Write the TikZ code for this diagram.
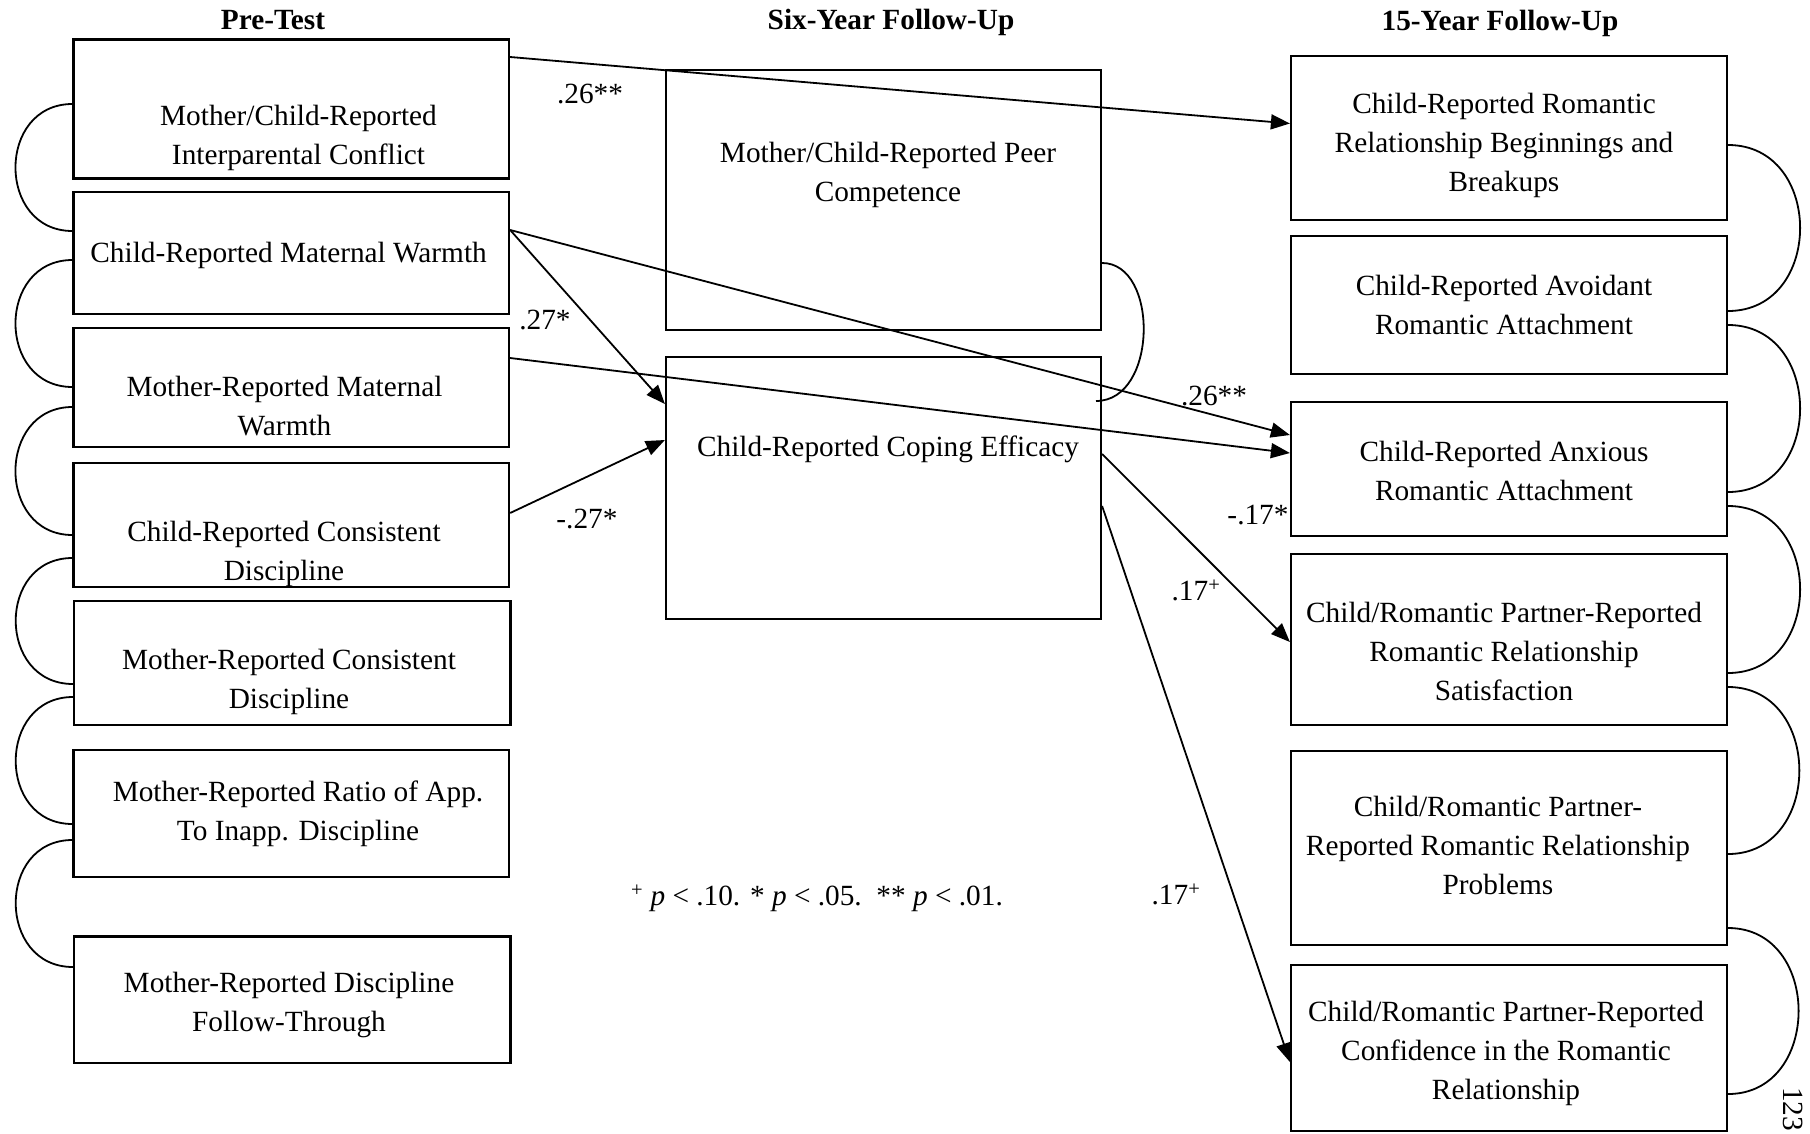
\documentclass[tikz,border=0pt]{standalone}
\usepackage{fontspec}
\setmainfont{Liberation Serif}
\usetikzlibrary{arrows.meta}
\newcommand\bodyfont{\fontsize{29.3}{39}\selectfont}
\begin{document}
\begin{tikzpicture}[x=1pt,y=-1pt,
  box/.style={draw,line width=2.2pt,inner sep=0pt},
  txt/.style={align=center,font=\bodyfont,inner sep=0pt},
  hdr/.style={font=\bodyfont\bfseries,inner sep=0pt},
  lbl/.style={font=\bodyfont,inner sep=0pt},
  effect/.style={line width=1.8pt,-{Triangle[length=19pt,width=15pt]}},
  corr/.style={line width=1.8pt}]
\fill[white] (0,0) rectangle (1810,1133);
\useasboundingbox (0,0) rectangle (1810,1133);

% column headers
\node[hdr] (h1) at (273,22) {\strut Pre-Test};
\node[hdr] (h2) at (891,22) {\strut Six-Year Follow-Up};
\node[hdr] (h3) at (1500,23) {\strut 15-Year Follow-Up};

% pre-test measures
\node[box,minimum width=435.5pt,minimum height=139pt] (L1) at (291.3,109) {};
\node[box,minimum width=435.5pt,minimum height=122.6pt] (L2) at (291.3,253) {};
\node[box,minimum width=435.5pt,minimum height=118.4pt] (L3) at (291.3,387.5) {};
\node[box,minimum width=435.5pt,minimum height=124pt] (L4) at (291.3,525) {};
\node[box,minimum width=436.5pt,minimum height=124pt] (L5) at (292.3,663) {};
\node[box,minimum width=435.5pt,minimum height=127pt] (L6) at (291.3,813.5) {};
\node[box,minimum width=436.5pt,minimum height=126.5pt] (L7) at (292.3,999.8) {};

\node[txt] (L1t) at (298.5,137) {\strut Mother/Child-Reported\\Interparental Conflict\strut};
\node[txt] (L2t) at (288.6,255) {\strut Child-Reported Maternal Warmth\strut};
\node[txt] (L3t) at (284.5,408) {\strut Mother-Reported Maternal\\Warmth\strut};
\node[txt] (L4t) at (284,553.5) {\strut Child-Reported Consistent\\Discipline\strut};
\node[txt] (L5t) at (289,681) {\strut Mother-Reported Consistent\\Discipline\strut};
\node[txt] (L6t) at (298,813) {\strut Mother-Reported Ratio of App.\\To Inapp. Discipline\strut};
\node[txt] (L7t) at (289,1004) {\strut Mother-Reported Discipline\\Follow-Through\strut};

% six-year measures
\node[box,minimum width=435pt,minimum height=260.7pt] (M1) at (883.5,200) {};
\node[box,minimum width=435pt,minimum height=261.6pt] (M2) at (883.5,487.8) {};
\node[txt] (M1t) at (888,174) {\strut Mother/Child-Reported Peer\\Competence\strut};
\node[txt] (M2t) at (888,449) {\strut Child-Reported Coping Efficacy\strut};

% fifteen-year outcomes
\node[box,minimum width=436pt,minimum height=164pt] (R1) at (1509,138) {};
\node[box,minimum width=436pt,minimum height=138pt] (R2) at (1509,305) {};
\node[box,minimum width=436pt,minimum height=134pt] (R3) at (1509,469) {};
\node[box,minimum width=436pt,minimum height=171pt] (R4) at (1509,639.5) {};
\node[box,minimum width=436pt,minimum height=194pt] (R5) at (1509,848) {};
\node[box,minimum width=436pt,minimum height=166pt] (R6) at (1509,1048) {};

\node[txt] (R1t) at (1504,145) {\strut Child-Reported Romantic\\Relationship Beginnings and\\Breakups\strut};
\node[txt] (R2t) at (1504,307.5) {\strut Child-Reported Avoidant\\Romantic Attachment\strut};
\node[txt] (R3t) at (1504,473.5) {\strut Child-Reported Anxious\\Romantic Attachment\strut};
\node[txt] (R4t) at (1504,654) {\strut Child/Romantic Partner-Reported\\Romantic Relationship\\Satisfaction\strut};
\node[txt] (R5t) at (1498,848) {\strut Child/Romantic Partner-\\Reported Romantic Relationship\\Problems\strut};
\node[txt] (R6t) at (1506,1053) {\strut Child/Romantic Partner-Reported\\Confidence in the Romantic\\Relationship\strut};

% correlations among pre-test measures
\draw[corr] (L1.west |- 0,104) .. controls +(-76,0) and +(-76,0) .. (L2.west |- 0,231);
\draw[corr] (L2.west |- 0,260) .. controls +(-76,0) and +(-76,0) .. (L3.west |- 0,387);
\draw[corr] (L3.west |- 0,407) .. controls +(-76,0) and +(-76,0) .. (L4.west |- 0,535);
\draw[corr] (L4.west |- 0,558) .. controls +(-76,0) and +(-76,0) .. (L5.west |- 0,684);
\draw[corr] (L5.west |- 0,697) .. controls +(-76,0) and +(-76,0) .. (L6.west |- 0,824);
\draw[corr] (L6.west |- 0,840) .. controls +(-76,0) and +(-76,0) .. (L7.west |- 0,967);

% correlation among six-year measures
\draw[corr] (M1.east |- 0,263) .. controls +(57,0) and +(62,0) .. (1096,401);

% correlations among outcomes
\draw[corr] (R1.east |- 0,145) .. controls +(96,0) and +(96,0) .. (R2.east |- 0,311);
\draw[corr] (R2.east |- 0,325) .. controls +(96,0) and +(96,0) .. (R3.east |- 0,492);
\draw[corr] (R3.east |- 0,506) .. controls +(96,0) and +(96,0) .. (R4.east |- 0,673);
\draw[corr] (R4.east |- 0,687) .. controls +(95,0) and +(95,0) .. (R5.east |- 0,854);
\draw[corr] (R5.east |- 0,928) .. controls +(94,0) and +(94,0) .. (R6.east |- 0,1094);

% significant paths
\draw[effect] (L1.east |- 0,57) -- (R1.west |- 0,123.5);
\draw[effect] (L2.east |- 0,230) -- (M2.west |- 0,404);
\draw[effect] (L2.east |- 0,230) -- (R3.west |- 0,435);
\draw[effect] (L3.east |- 0,358) -- (R3.west |- 0,453);
\draw[effect] (L4.east |- 0,513) -- (M2.west |- 0,440);
\draw[effect] (M2.east |- 0,454) -- (R4.west |- 0,642);
\draw[effect] (M2.east |- 0,506) -- (R6.west |- 0,1062);

% path coefficients
\node[lbl] (e1) at (590,96) {\strut .26**};
\node[lbl] (e2) at (545,322) {\strut .27*};
\node[lbl] (e3) at (587,521) {\strut -.27*};
\node[lbl] (e4) at (1214,398) {\strut .26**};
\node[lbl] (e5) at (1258,517) {\strut -.17*};
\node[lbl] (e6) at (1196,593) {\strut .17\textsuperscript{+}};
\node[lbl] (e7) at (1176,897) {\strut .17\textsuperscript{+}};

% significance note and page number
\node[lbl] (note) at (817,898) {\strut\textsuperscript{+} \textit{p} < .10. * \textit{p} < .05.\ \ ** \textit{p} < .01.};
\node[lbl,rotate=-90] (page) at (1793,1109) {123};
\end{tikzpicture}
\end{document}
